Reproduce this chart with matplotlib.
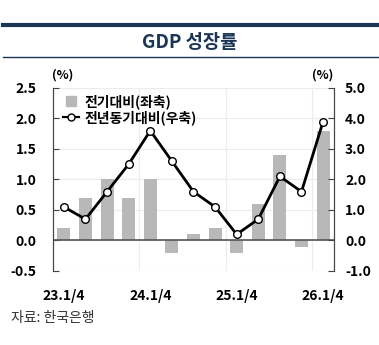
import matplotlib.pyplot as plt
from matplotlib.lines import Line2D
import numpy as np

plt.rcParams['font.family'] = ['Noto Sans CJK KR', 'DejaVu Sans']

quarters = ['23.1/4', '23.2/4', '23.3/4', '23.4/4', '24.1/4', '24.2/4', '24.3/4',
            '24.4/4', '25.1/4', '25.2/4', '25.3/4', '25.4/4', '26.1/4']
qoq = [0.2, 0.7, 1.0, 0.7, 1.0, -0.2, 0.1, 0.2, -0.2, 0.6, 1.4, -0.1, 1.8]
yoy = [1.1, 0.7, 1.6, 2.5, 3.6, 2.6, 1.6, 1.1, 0.2, 0.7, 2.1, 1.6, 3.9]

left_ticks = [-0.5, 0.0, 0.5, 1.0, 1.5, 2.0, 2.5]
right_ticks = [-1.0, 0.0, 1.0, 2.0, 3.0, 4.0, 5.0]
navy = '#1b3556'

fig = plt.figure(figsize=(3.79, 3.45), dpi=100)
ax = fig.add_axes([0.14, 0.2145, 0.741, 0.5305])
ax2 = ax.twinx()

x = np.arange(len(quarters))
ax.bar(x, qoq, width=0.6, color='#b8b8b8', zorder=2)
ax.axhline(0, color='#555555', lw=1.2, zorder=3)
ax.set_xlim(-0.5, 12.5)
ax.set_ylim(-0.5, 2.5)
ax.set_yticks(left_ticks)
ax.set_yticklabels([f'{v:.1f}' for v in left_ticks], fontweight='bold', fontsize=10)
for v in left_ticks:
    ax.axhline(v, color='#ececec', lw=0.8, zorder=0)
for v in [3.5, 7.5, 11.5]:
    ax.axvline(v, color='#ececec', lw=0.8, zorder=0)
ax.set_xticks([0, 4, 8, 12])
ax.set_xticklabels([quarters[i] for i in [0, 4, 8, 12]], fontweight='bold', fontsize=10)
ax.tick_params(axis='x', length=0, pad=13)
ax.tick_params(axis='y', direction='in', length=4, color='#444444', pad=12)

ax2.plot(x, yoy, color='black', lw=2, marker='o', ms=5.5, mfc='white', mec='black', mew=1, zorder=4)
ax2.set_ylim(-1.0, 5.0)
ax2.set_yticks(right_ticks)
ax2.set_yticklabels([f'{v:.1f}' for v in right_ticks], fontweight='bold', fontsize=10)
ax2.tick_params(axis='y', direction='in', length=4, color='#444444', pad=8)

for a in (ax, ax2):
    a.spines['top'].set_visible(False)
    a.spines['bottom'].set_visible(False)
    a.spines['left'].set_color('#444444')
    a.spines['right'].set_color('#444444')

handles = [Line2D([], [], ls='none', marker='s', ms=7, mfc='#b8b8b8', mec='#b8b8b8'),
           Line2D([], [], color='black', lw=1.5, marker='o', ms=5, mfc='white', mec='black')]
ax.legend(handles, ['전기대비(좌축)', '전년동기대비(우축)'], loc='upper left',
          bbox_to_anchor=(-0.01, 1.035), frameon=False, handlelength=1.2,
          handletextpad=0.4, labelspacing=0.1, prop={'weight': 'bold', 'size': 10})

fig.text(0.165, 0.772, '(%)', fontsize=9, fontweight='bold', ha='center')
fig.text(0.852, 0.772, '(%)', fontsize=9, fontweight='bold', ha='center')

fig.add_artist(Line2D([0.008, 1.0], [0.927, 0.927], color=navy, lw=3))
fig.add_artist(Line2D([0.008, 1.0], [0.835, 0.835], color=navy, lw=1))
fig.text(0.5, 0.878, 'GDP 성장률', fontsize=13.5, fontweight='bold', color=navy,
         ha='center', va='center')
fig.text(0.03, 0.068, '자료: 한국은행', fontsize=10, color='#333333')

fig.savefig('out.png', dpi=100)
